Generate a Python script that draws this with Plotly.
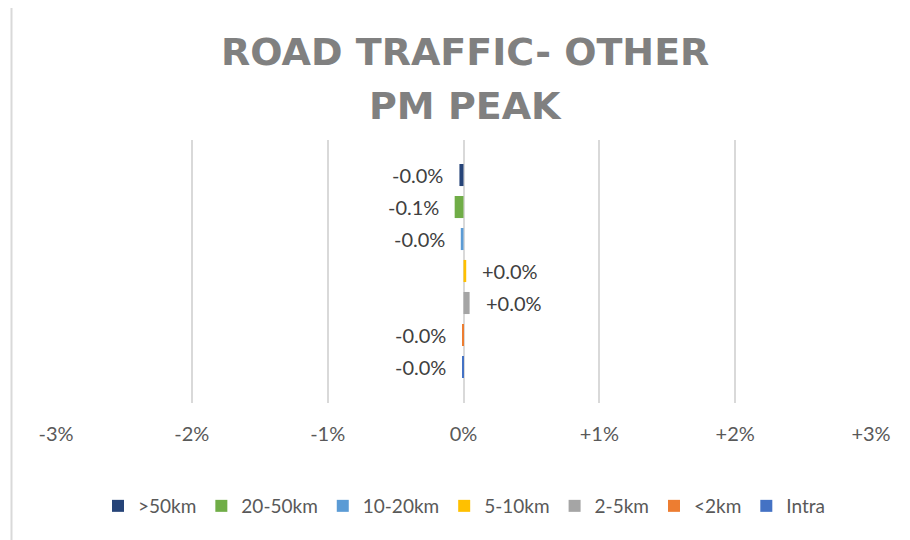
import plotly.graph_objects as go

categories = [">50km", "20-50km", "10-20km", "5-10km", "2-5km", "<2km", "Intra"]
values = [-0.03, -0.065, -0.02, 0.02, 0.045, -0.01, -0.01]  # percent
colors = ["#264478", "#70ad47", "#5b9bd5", "#ffc000", "#a5a5a5", "#ed7d31", "#4472c4"]
tick_vals = [-3, -2, -1, 0, 1, 2, 3]
tick_text = ["-3%", "-2%", "-1%", "0%", "+1%", "+2%", "+3%"]
title_lines = ["ROAD TRAFFIC- OTHER", "PM PEAK"]

OFF = 8  # browser body margin
W, H = 910 - OFF, 540 - OFF
L, R, T, B = 56 - OFF, 39, 140 - OFF, 137
pw, ph = W - L - R, H - T - B

fig = go.Figure()
for cat, val, col in zip(categories, values, colors):
    fig.add_trace(go.Bar(
        y=[cat], x=[val], name=cat, orientation="h",
        marker=dict(color=col, line=dict(width=0)),
        hoverinfo="x+name",
    ))

FONT = "Lato, Open Sans, sans-serif"
annotations = []
for cat, val in zip(categories, values):
    label = f"{val:+.1f}%"
    annotations.append(dict(
        x=val, y=cat, xref="x", yref="y", text=label, showarrow=False,
        xanchor="left" if val >= 0 else "right",
        xshift=14 if val >= 0 else -14,
        font=dict(family=FONT, size=20, color="#404040"),
    ))

# conversions from window pixels to paper coordinates
def px_to_paper_x(p):
    return (p - OFF - L) / pw

def px_to_paper_y(p):
    return (H - B - (p - OFF)) / ph

for line, ypx in zip(title_lines, [52, 106]):
    annotations.append(dict(
        x=px_to_paper_x(465), y=px_to_paper_y(ypx), xref="paper", yref="paper",
        text=line, showarrow=False, xanchor="center", yanchor="middle",
        font=dict(family="DejaVu Sans, sans-serif", size=38, color="#808080", weight="bold"),
    ))

fig.update_layout(
    width=W, height=H,
    margin=dict(l=L, r=R, t=T, b=B),
    paper_bgcolor="white", plot_bgcolor="white",
    barmode="relative",
    bargap=0.31,
    showlegend=True,
    legend=dict(
        orientation="h", x=px_to_paper_x(464), xanchor="center",
        y=px_to_paper_y(506), yanchor="middle",
        font=dict(family=FONT, size=19, color="#595959"),
        itemwidth=30, tracegroupgap=0,
    ),
    xaxis=dict(
        range=[-3, 3], tickvals=tick_vals, ticktext=tick_text,
        showgrid=True, gridcolor="#d9d9d9", gridwidth=2,
        zeroline=False, showline=False, ticks="",
        tickfont=dict(family=FONT, size=20, color="#595959"),
        ticklabelstandoff=17,
        fixedrange=True,
    ),
    yaxis=dict(
        type="category", categoryorder="array", categoryarray=categories[::-1],
        range=[-1.125, 7.094], showticklabels=False, showgrid=False,
        zeroline=False, showline=False, ticks="",
    ),
    annotations=annotations,
    shapes=[dict(
        type="rect", xref="paper", yref="paper",
        x0=px_to_paper_x(11.5), x1=px_to_paper_x(930),
        y0=px_to_paper_y(560), y1=px_to_paper_y(7),
        line=dict(color="#d9d9d9", width=2), fillcolor="rgba(0,0,0,0)",
        layer="below",
    )],
)

fig.write_html("out.html")
